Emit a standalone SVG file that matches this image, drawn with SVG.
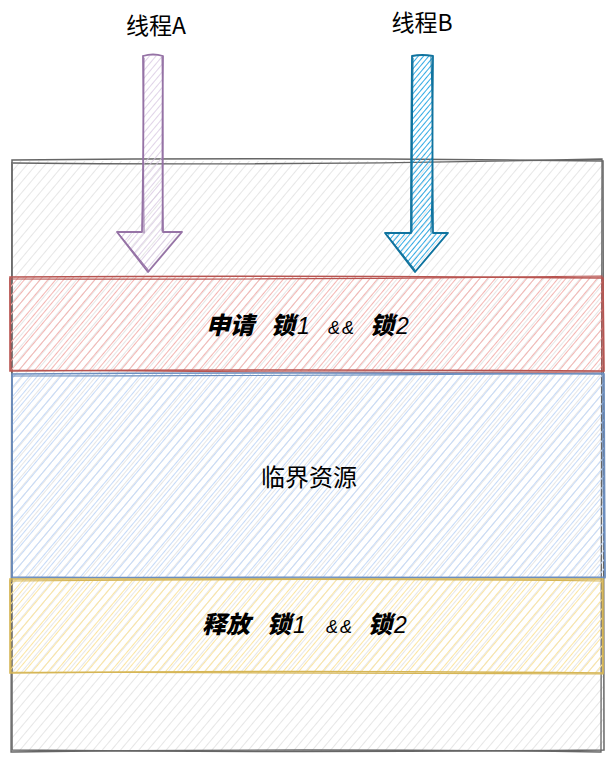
<svg xmlns="http://www.w3.org/2000/svg" width="615" height="758" viewBox="0 0 615 758">
<style>
.t{font-family:"Noto Sans CJK SC","Liberation Sans",sans-serif;fill:#000}
.lab{font-size:24px;font-style:italic}
.b{font-weight:900}
.n{font-weight:normal;font-size:23px;font-family:"Liberation Sans","Noto Sans CJK SC",sans-serif}
.amp{font-size:18px;font-weight:normal;font-style:italic;font-family:"Liberation Sans",sans-serif;letter-spacing:2px}
.edge{fill:none;stroke-linejoin:round;stroke-linecap:round}
</style>
<defs>
<pattern id="hGray" patternUnits="userSpaceOnUse" width="7" height="7" patternTransform="rotate(40)"><line x1="0" y1="0" x2="0" y2="7" stroke="#e2e2e2" stroke-width="1.7"/></pattern>
<pattern id="hRed" patternUnits="userSpaceOnUse" width="6" height="6" patternTransform="rotate(40)"><line x1="0" y1="0" x2="0" y2="6" stroke="#f3b6b3" stroke-width="2"/></pattern>
<pattern id="hBlue" patternUnits="userSpaceOnUse" width="6" height="6" patternTransform="rotate(40)"><line x1="0" y1="0" x2="0" y2="6" stroke="#c6daf7" stroke-width="2"/></pattern>
<pattern id="hYel" patternUnits="userSpaceOnUse" width="6" height="6" patternTransform="rotate(40)"><line x1="0" y1="0" x2="0" y2="6" stroke="#fbe5a3" stroke-width="2"/></pattern>
<pattern id="hPur" patternUnits="userSpaceOnUse" width="5" height="5" patternTransform="rotate(40)"><line x1="0" y1="0" x2="0" y2="5" stroke="#d6c4e0" stroke-width="1.5"/></pattern>
<pattern id="hCy" patternUnits="userSpaceOnUse" width="4" height="4" patternTransform="rotate(40)"><line x1="0" y1="0" x2="0" y2="4" stroke="#1ba1e2" stroke-width="1.8"/></pattern>
</defs>

<g id="outer">
<rect x="12" y="161" width="591" height="590" fill="url(#hGray)"/>
<path d="M12 160 Q300 157 603 161 L604 750 Q300 753 12 750 Z" fill="none" stroke="#666" stroke-width="1.5"/>
<path d="M13 163 Q300 166 602 159 L601 752 Q300 748 11 752 L12 162" fill="none" stroke="#666" stroke-width="1.3"/>
</g>

<g id="acquire">
<rect x="10" y="277" width="593" height="94" fill="url(#hRed)"/>
<path d="M10 277 Q300 275 603 278 L604 371 Q300 369 10 371 Z" fill="none" stroke="#b85450" stroke-width="1.6"/>
<path d="M11 279 Q300 280 602 276 L602 372 Q300 373 11 370 L10 278" fill="none" stroke="#b85450" stroke-width="1.2"/>
<text class="t lab" y="334"><tspan class="b" x="206">申请</tspan><tspan class="b" x="271">锁</tspan><tspan class="n" x="297">1</tspan><tspan class="amp" x="328">&amp;&amp;</tspan><tspan class="b" x="370">锁</tspan><tspan class="n" x="396">2</tspan></text>
</g>

<g id="critical">
<rect x="12" y="374" width="592" height="203" fill="url(#hBlue)"/>
<path d="M12 374 Q300 372 604 374 L605 577 Q300 579 12 577 Z" fill="none" stroke="#6c8ebf" stroke-width="1.6"/>
<path d="M13 376 Q300 376 603 373 Q602 470 605 578 Q300 576 12 578 L12 375" fill="none" stroke="#6c8ebf" stroke-width="1.2"/>
<text class="t" x="309" y="486" font-size="24" text-anchor="middle" fill="#222">临界资源</text>
</g>

<g id="release">
<rect x="10" y="579" width="593" height="94" fill="url(#hYel)"/>
<path d="M10 579 Q300 580 603 579 L603 673 Q300 670 10 673 Z" fill="none" stroke="#d6b656" stroke-width="1.6"/>
<path d="M11 581 Q300 578 602 581 L603 674 Q300 672 11 672 L10 580" fill="none" stroke="#d6b656" stroke-width="1.2"/>
<text class="t lab" y="633"><tspan class="b" x="202">释放</tspan><tspan class="b" x="267">锁</tspan><tspan class="n" x="293">1</tspan><tspan class="amp" x="326">&amp;&amp;</tspan><tspan class="b" x="368">锁</tspan><tspan class="n" x="394">2</tspan></text>
</g>

<g id="threadA">
<text class="t" x="156" y="34" font-size="23" text-anchor="middle">线程A</text>
</g>
<g id="threadB">
<text class="t" x="422" y="31" font-size="23" text-anchor="middle">线程B</text>
</g>

<g id="connectors">
<path d="M143 56 L143 232 L117 232 L148 272 L182 232 L163 232 L163 56 Z" fill="url(#hPur)"/>
<path class="edge" d="M143 56 Q144 140 142 232 L117 232 L148 272 L182 232 L163 232 Q162 150 163 56 Q153 53 143 56" stroke="#9673a6" stroke-width="1.8"/>
<path class="edge" d="M144 58 Q143 140 144 233 M162 57 Q164 140 162 231 M118 233 L149 271" stroke="#9673a6" stroke-width="1.1"/>
<path d="M412 56 L411 233 L385 233 L415 272 L448 233 L433 233 L433 56 Z" fill="url(#hCy)"/>
<path class="edge" d="M412 56 Q411 150 411 233 L385 233 L415 272 L448 233 L433 233 Q432 140 433 56 Q422 54 412 56" stroke="#10739e" stroke-width="1.8"/>
<path class="edge" d="M413 58 Q412 140 412 232 M431 57 Q434 140 431 232 M387 235 L415 270" stroke="#10739e" stroke-width="1.1"/>
</g>
</svg>
